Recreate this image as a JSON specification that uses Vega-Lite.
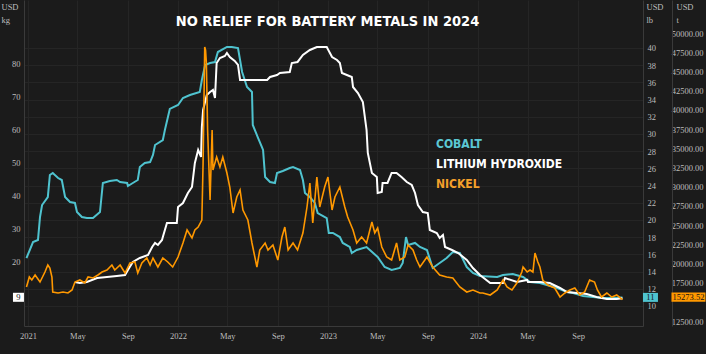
{
  "$schema": "https://vega.github.io/schema/vega-lite/v6.json",
  "width": 619,
  "height": 326,
  "autosize": {"type": "none"},
  "padding": {"left": 24, "top": 0, "right": 63, "bottom": 28},
  "background": "#1b1b1b",
  "title": {
    "text": "NO RELIEF FOR BATTERY METALS IN 2024",
    "color": "#ffffff",
    "font": "DejaVu Sans Condensed",
    "fontSize": 14.5,
    "fontWeight": "bold",
    "anchor": "middle",
    "frame": "group",
    "offset": -25,
    "baseline": "alphabetic",
    "dx": -6,
    "dy": 15
  },
  "config": {
    "view": {"stroke": null},
    "axis": {
      "labelFont": "Liberation Sans Narrow",
      "labelFontSize": 8.5,
      "labelColor": "#bdbdbd",
      "titleFont": "Liberation Sans Narrow",
      "titleFontSize": 8.5,
      "titleFontWeight": "normal",
      "titleColor": "#bdbdbd",
      "domainColor": "#3a3a3a",
      "tickSize": 0,
      "gridColor": "#252525",
      "labelOverlap": false,
      "labelFlush": false
    }
  },
  "datasets": {
    "cobalt": [
      {"date": "2020-12-28", "v": 15.58}, {"date": "2021-01-05", "v": 16.51}, {"date": "2021-01-13", "v": 17.44},
      {"date": "2021-01-25", "v": 17.67}, {"date": "2021-01-30", "v": 20.35}, {"date": "2021-02-04", "v": 21.74},
      {"date": "2021-02-18", "v": 22.67}, {"date": "2021-02-23", "v": 25.23}, {"date": "2021-03-02", "v": 25.47},
      {"date": "2021-03-15", "v": 24.88}, {"date": "2021-03-24", "v": 24.65}, {"date": "2021-04-01", "v": 22.67},
      {"date": "2021-04-13", "v": 22.09}, {"date": "2021-04-25", "v": 21.98}, {"date": "2021-04-30", "v": 20.93},
      {"date": "2021-05-12", "v": 20.35}, {"date": "2021-05-24", "v": 20.23}, {"date": "2021-06-08", "v": 20.23},
      {"date": "2021-06-25", "v": 20.93}, {"date": "2021-07-02", "v": 24.30}, {"date": "2021-07-19", "v": 24.53},
      {"date": "2021-08-05", "v": 24.65}, {"date": "2021-08-13", "v": 24.42}, {"date": "2021-08-30", "v": 24.30},
      {"date": "2021-09-01", "v": 23.95}, {"date": "2021-09-13", "v": 24.30}, {"date": "2021-09-25", "v": 24.65},
      {"date": "2021-09-30", "v": 26.16}, {"date": "2021-10-12", "v": 26.63}, {"date": "2021-10-25", "v": 26.74},
      {"date": "2021-11-01", "v": 27.56}, {"date": "2021-11-06", "v": 28.72}, {"date": "2021-11-25", "v": 29.30},
      {"date": "2021-11-30", "v": 30.47}, {"date": "2021-12-12", "v": 32.91}, {"date": "2022-01-01", "v": 33.37},
      {"date": "2022-01-13", "v": 34.19}, {"date": "2022-01-30", "v": 34.53}, {"date": "2022-02-23", "v": 34.88},
      {"date": "2022-02-28", "v": 36.28}, {"date": "2022-03-08", "v": 38.02}, {"date": "2022-03-20", "v": 38.26},
      {"date": "2022-04-01", "v": 38.37}, {"date": "2022-04-08", "v": 39.53}, {"date": "2022-04-30", "v": 40.12},
      {"date": "2022-05-12", "v": 40.12}, {"date": "2022-05-27", "v": 40.00}, {"date": "2022-06-01", "v": 38.60},
      {"date": "2022-06-06", "v": 37.21}, {"date": "2022-06-18", "v": 35.47}, {"date": "2022-06-30", "v": 34.88},
      {"date": "2022-07-02", "v": 31.05}, {"date": "2022-07-14", "v": 29.65}, {"date": "2022-07-24", "v": 28.49},
      {"date": "2022-07-27", "v": 28.14}, {"date": "2022-08-01", "v": 25.00}, {"date": "2022-08-13", "v": 24.42},
      {"date": "2022-08-25", "v": 24.30}, {"date": "2022-08-30", "v": 25.47}, {"date": "2022-09-13", "v": 25.70},
      {"date": "2022-09-30", "v": 26.05}, {"date": "2022-10-08", "v": 26.16}, {"date": "2022-10-25", "v": 25.81},
      {"date": "2022-11-01", "v": 24.65}, {"date": "2022-11-06", "v": 23.14}, {"date": "2022-11-18", "v": 22.67},
      {"date": "2022-11-30", "v": 21.98}, {"date": "2022-12-07", "v": 20.81}, {"date": "2022-12-29", "v": 20.23},
      {"date": "2023-01-03", "v": 18.49}, {"date": "2023-01-13", "v": 18.49}, {"date": "2023-01-30", "v": 18.02},
      {"date": "2023-02-06", "v": 17.33}, {"date": "2023-02-23", "v": 16.86}, {"date": "2023-02-28", "v": 16.16},
      {"date": "2023-03-12", "v": 16.51}, {"date": "2023-04-05", "v": 16.86}, {"date": "2023-04-13", "v": 16.51},
      {"date": "2023-05-02", "v": 15.70}, {"date": "2023-05-19", "v": 14.53}, {"date": "2023-06-05", "v": 14.19},
      {"date": "2023-06-25", "v": 14.42}, {"date": "2023-07-02", "v": 15.00}, {"date": "2023-07-10", "v": 18.02},
      {"date": "2023-07-15", "v": 17.09}, {"date": "2023-08-01", "v": 17.33}, {"date": "2023-08-13", "v": 16.86},
      {"date": "2023-08-30", "v": 16.51}, {"date": "2023-09-13", "v": 14.42}, {"date": "2023-09-30", "v": 15.00},
      {"date": "2023-10-17", "v": 15.58}, {"date": "2023-11-01", "v": 16.28}, {"date": "2023-11-18", "v": 16.16},
      {"date": "2023-12-05", "v": 14.53}, {"date": "2023-12-20", "v": 13.84}, {"date": "2024-01-06", "v": 13.49},
      {"date": "2024-02-17", "v": 13.37}, {"date": "2024-03-02", "v": 13.60}, {"date": "2024-03-26", "v": 13.72},
      {"date": "2024-04-20", "v": 13.37}, {"date": "2024-05-07", "v": 12.79}, {"date": "2024-05-31", "v": 12.67},
      {"date": "2024-06-17", "v": 12.44}, {"date": "2024-07-12", "v": 12.09}, {"date": "2024-08-05", "v": 11.63},
      {"date": "2024-08-20", "v": 11.51}, {"date": "2024-09-13", "v": 11.16}, {"date": "2024-10-07", "v": 11.05},
      {"date": "2024-11-01", "v": 10.93}, {"date": "2024-11-25", "v": 10.93}, {"date": "2024-12-18", "v": 11}
    ],
    "lithium": [
      {"date": "2021-04-25", "v": 13.94}, {"date": "2021-05-07", "v": 13.64}, {"date": "2021-05-24", "v": 13.94},
      {"date": "2021-06-18", "v": 15.15}, {"date": "2021-07-12", "v": 15.45}, {"date": "2021-08-05", "v": 15.76},
      {"date": "2021-08-25", "v": 16.06}, {"date": "2021-09-01", "v": 17.58}, {"date": "2021-09-13", "v": 20.00},
      {"date": "2021-09-30", "v": 21.21}, {"date": "2021-10-20", "v": 22.12}, {"date": "2021-10-30", "v": 24.55},
      {"date": "2021-11-06", "v": 25.76}, {"date": "2021-11-13", "v": 25.15}, {"date": "2021-11-23", "v": 26.67},
      {"date": "2021-11-25", "v": 27.58}, {"date": "2021-12-05", "v": 31.82}, {"date": "2021-12-29", "v": 31.82},
      {"date": "2022-01-01", "v": 36.67}, {"date": "2022-01-13", "v": 37.88}, {"date": "2022-01-25", "v": 40.91},
      {"date": "2022-02-04", "v": 42.73}, {"date": "2022-02-11", "v": 50.00}, {"date": "2022-02-19", "v": 53.94},
      {"date": "2022-02-26", "v": 51.82}, {"date": "2022-02-28", "v": 60.91}, {"date": "2022-03-03", "v": 66.06},
      {"date": "2022-03-12", "v": 70.61}, {"date": "2022-03-20", "v": 71.52}, {"date": "2022-03-27", "v": 72.12},
      {"date": "2022-04-01", "v": 69.70}, {"date": "2022-04-05", "v": 80.30}, {"date": "2022-04-13", "v": 81.82},
      {"date": "2022-04-25", "v": 82.42}, {"date": "2022-04-30", "v": 83.33}, {"date": "2022-05-07", "v": 82.12},
      {"date": "2022-05-19", "v": 80.91}, {"date": "2022-05-27", "v": 79.70}, {"date": "2022-06-01", "v": 75.15},
      {"date": "2022-06-25", "v": 75.15}, {"date": "2022-08-06", "v": 75.15}, {"date": "2022-08-13", "v": 76.06},
      {"date": "2022-08-30", "v": 76.67}, {"date": "2022-09-06", "v": 77.27}, {"date": "2022-09-30", "v": 77.58},
      {"date": "2022-10-05", "v": 80.30}, {"date": "2022-10-19", "v": 80.61}, {"date": "2022-11-01", "v": 82.73},
      {"date": "2022-11-18", "v": 84.24}, {"date": "2022-12-05", "v": 85.15}, {"date": "2022-12-29", "v": 85.15},
      {"date": "2023-01-11", "v": 82.12}, {"date": "2023-01-23", "v": 81.21}, {"date": "2023-01-30", "v": 80.30},
      {"date": "2023-02-04", "v": 77.27}, {"date": "2023-02-16", "v": 76.67}, {"date": "2023-02-28", "v": 76.06},
      {"date": "2023-03-03", "v": 73.03}, {"date": "2023-03-15", "v": 71.21}, {"date": "2023-03-27", "v": 68.48},
      {"date": "2023-04-05", "v": 60.00}, {"date": "2023-04-08", "v": 53.03}, {"date": "2023-04-18", "v": 46.97},
      {"date": "2023-04-30", "v": 45.76}, {"date": "2023-05-02", "v": 40.91}, {"date": "2023-05-12", "v": 41.21},
      {"date": "2023-05-14", "v": 43.94}, {"date": "2023-05-26", "v": 43.94}, {"date": "2023-06-05", "v": 46.97},
      {"date": "2023-06-17", "v": 46.97}, {"date": "2023-06-29", "v": 45.76}, {"date": "2023-07-12", "v": 44.24},
      {"date": "2023-07-24", "v": 43.33}, {"date": "2023-08-01", "v": 40.91}, {"date": "2023-08-08", "v": 37.27},
      {"date": "2023-08-20", "v": 35.15}, {"date": "2023-09-01", "v": 34.85}, {"date": "2023-09-06", "v": 29.70},
      {"date": "2023-09-23", "v": 28.79}, {"date": "2023-09-30", "v": 27.27}, {"date": "2023-10-08", "v": 28.18},
      {"date": "2023-10-13", "v": 24.55}, {"date": "2023-10-30", "v": 23.64}, {"date": "2023-11-14", "v": 22.73},
      {"date": "2023-12-05", "v": 20.61}, {"date": "2023-12-20", "v": 18.18}, {"date": "2024-01-06", "v": 16.06},
      {"date": "2024-01-31", "v": 13.64}, {"date": "2024-03-02", "v": 13.64}, {"date": "2024-03-07", "v": 15.15},
      {"date": "2024-04-05", "v": 13.94}, {"date": "2024-04-30", "v": 14.55}, {"date": "2024-05-02", "v": 13.94},
      {"date": "2024-05-31", "v": 13.94}, {"date": "2024-06-24", "v": 13.64}, {"date": "2024-07-19", "v": 12.12},
      {"date": "2024-08-05", "v": 10.91}, {"date": "2024-08-29", "v": 10.61}, {"date": "2024-09-22", "v": 10.30},
      {"date": "2024-10-16", "v": 9.39}, {"date": "2024-11-10", "v": 8.79}, {"date": "2024-12-04", "v": 8.79},
      {"date": "2024-12-18", "v": 9}
    ],
    "nickel": [
      {"date": "2020-12-28", "v": 16927}, {"date": "2021-01-04", "v": 18229}, {"date": "2021-01-10", "v": 17838},
      {"date": "2021-01-18", "v": 18489}, {"date": "2021-01-30", "v": 17578}, {"date": "2021-02-11", "v": 18880},
      {"date": "2021-02-18", "v": 19791}, {"date": "2021-02-23", "v": 19400}, {"date": "2021-02-28", "v": 18229},
      {"date": "2021-03-02", "v": 16276}, {"date": "2021-03-15", "v": 16146}, {"date": "2021-03-27", "v": 16276},
      {"date": "2021-04-08", "v": 16146}, {"date": "2021-04-18", "v": 16536}, {"date": "2021-04-25", "v": 17578},
      {"date": "2021-05-07", "v": 17838}, {"date": "2021-05-19", "v": 17448}, {"date": "2021-05-27", "v": 18229},
      {"date": "2021-06-08", "v": 18099}, {"date": "2021-06-20", "v": 18489}, {"date": "2021-06-30", "v": 18880},
      {"date": "2021-07-12", "v": 19140}, {"date": "2021-07-24", "v": 19791}, {"date": "2021-07-31", "v": 19140},
      {"date": "2021-08-13", "v": 19791}, {"date": "2021-08-25", "v": 18750}, {"date": "2021-09-06", "v": 20052},
      {"date": "2021-09-18", "v": 20182}, {"date": "2021-09-25", "v": 18750}, {"date": "2021-10-05", "v": 20052},
      {"date": "2021-10-17", "v": 20703}, {"date": "2021-10-25", "v": 19791}, {"date": "2021-11-01", "v": 20703},
      {"date": "2021-11-13", "v": 19531}, {"date": "2021-11-25", "v": 20703}, {"date": "2021-12-07", "v": 20182},
      {"date": "2021-12-19", "v": 19531}, {"date": "2022-01-01", "v": 20833}, {"date": "2022-01-13", "v": 22656},
      {"date": "2022-01-23", "v": 24348}, {"date": "2022-02-04", "v": 23307}, {"date": "2022-02-11", "v": 24348},
      {"date": "2022-02-19", "v": 24739}, {"date": "2022-02-28", "v": 25650}, {"date": "2022-03-03", "v": 33072},
      {"date": "2022-03-07", "v": 48175}, {"date": "2022-03-09", "v": 47784}, {"date": "2022-03-11", "v": 46092},
      {"date": "2022-03-14", "v": 37368}, {"date": "2022-03-20", "v": 28254}, {"date": "2022-03-25", "v": 37368},
      {"date": "2022-03-27", "v": 32160}, {"date": "2022-04-05", "v": 33853}, {"date": "2022-04-13", "v": 32551},
      {"date": "2022-04-20", "v": 33853}, {"date": "2022-04-30", "v": 31770}, {"date": "2022-05-07", "v": 29947},
      {"date": "2022-05-15", "v": 26562}, {"date": "2022-05-24", "v": 28645}, {"date": "2022-06-01", "v": 29556},
      {"date": "2022-06-08", "v": 26953}, {"date": "2022-06-20", "v": 25650}, {"date": "2022-06-30", "v": 22656},
      {"date": "2022-07-12", "v": 19531}, {"date": "2022-07-19", "v": 21744}, {"date": "2022-08-01", "v": 22656},
      {"date": "2022-08-08", "v": 21744}, {"date": "2022-08-20", "v": 22395}, {"date": "2022-09-01", "v": 20442},
      {"date": "2022-09-11", "v": 23437}, {"date": "2022-09-18", "v": 24739}, {"date": "2022-09-26", "v": 21744},
      {"date": "2022-10-08", "v": 22656}, {"date": "2022-10-19", "v": 21744}, {"date": "2022-11-01", "v": 23958},
      {"date": "2022-11-11", "v": 27343}, {"date": "2022-11-18", "v": 30468}, {"date": "2022-11-25", "v": 25260},
      {"date": "2022-12-05", "v": 31249}, {"date": "2022-12-12", "v": 27343}, {"date": "2022-12-24", "v": 29947},
      {"date": "2023-01-01", "v": 31249}, {"date": "2023-01-11", "v": 26953}, {"date": "2023-01-18", "v": 28645},
      {"date": "2023-01-30", "v": 29947}, {"date": "2023-02-11", "v": 27343}, {"date": "2023-02-18", "v": 26041},
      {"date": "2023-03-03", "v": 24348}, {"date": "2023-03-12", "v": 22656}, {"date": "2023-03-24", "v": 23437},
      {"date": "2023-04-05", "v": 22656}, {"date": "2023-04-18", "v": 25390}, {"date": "2023-04-25", "v": 23958},
      {"date": "2023-05-02", "v": 24609}, {"date": "2023-05-12", "v": 22135}, {"date": "2023-05-24", "v": 20833},
      {"date": "2023-06-05", "v": 20442}, {"date": "2023-06-17", "v": 22656}, {"date": "2023-06-25", "v": 20442},
      {"date": "2023-07-07", "v": 20833}, {"date": "2023-07-15", "v": 22395}, {"date": "2023-07-27", "v": 21744},
      {"date": "2023-08-05", "v": 20442}, {"date": "2023-08-13", "v": 19531}, {"date": "2023-08-30", "v": 20833},
      {"date": "2023-09-13", "v": 19531}, {"date": "2023-09-30", "v": 18489}, {"date": "2023-10-17", "v": 18229},
      {"date": "2023-11-01", "v": 18099}, {"date": "2023-11-18", "v": 16927}, {"date": "2023-12-05", "v": 16276},
      {"date": "2023-12-20", "v": 16536}, {"date": "2024-01-06", "v": 16146}, {"date": "2024-01-13", "v": 16145},
      {"date": "2024-01-31", "v": 15885}, {"date": "2024-02-17", "v": 16536}, {"date": "2024-03-02", "v": 17838},
      {"date": "2024-03-12", "v": 16927}, {"date": "2024-03-24", "v": 16536}, {"date": "2024-04-05", "v": 17448},
      {"date": "2024-04-17", "v": 18880}, {"date": "2024-04-20", "v": 19531}, {"date": "2024-04-30", "v": 18880},
      {"date": "2024-05-07", "v": 19140}, {"date": "2024-05-14", "v": 18880}, {"date": "2024-05-19", "v": 21353},
      {"date": "2024-05-26", "v": 20182}, {"date": "2024-05-31", "v": 19531}, {"date": "2024-06-07", "v": 17838},
      {"date": "2024-06-19", "v": 17187}, {"date": "2024-07-06", "v": 16797}, {"date": "2024-07-19", "v": 15625},
      {"date": "2024-07-31", "v": 16146}, {"date": "2024-08-12", "v": 16536}, {"date": "2024-08-24", "v": 16797},
      {"date": "2024-09-05", "v": 15885}, {"date": "2024-09-17", "v": 16276}, {"date": "2024-09-29", "v": 17838},
      {"date": "2024-10-11", "v": 17578}, {"date": "2024-10-18", "v": 16536}, {"date": "2024-10-28", "v": 15625},
      {"date": "2024-11-10", "v": 16146}, {"date": "2024-11-22", "v": 15624}, {"date": "2024-12-04", "v": 15885},
      {"date": "2024-12-18", "v": 15273.52}
    ]
  },
  "encoding": {
    "x": {
      "field": "date",
      "type": "temporal",
      "scale": {"domain": [{"year": 2020, "month": 12, "date": 22}, {"year": 2025, "month": 2, "date": 6}]},
      "axis": {
        "title": null,
        "values": [
          {"year": 2021, "month": 1, "date": 1}, {"year": 2021, "month": 5, "date": 1}, {"year": 2021, "month": 9, "date": 1},
          {"year": 2022, "month": 1, "date": 1}, {"year": 2022, "month": 5, "date": 1}, {"year": 2022, "month": 9, "date": 1},
          {"year": 2023, "month": 1, "date": 1}, {"year": 2023, "month": 5, "date": 1}, {"year": 2023, "month": 9, "date": 1},
          {"year": 2024, "month": 1, "date": 1}, {"year": 2024, "month": 5, "date": 1}, {"year": 2024, "month": 9, "date": 1}
        ],
        "labelExpr": "month(datum.value) == 0 ? timeFormat(datum.value, '%Y') : timeFormat(datum.value, '%b')",
        "grid": true,
        "labelPadding": 5
      }
    }
  },
  "resolve": {"scale": {"y": "independent"}, "axis": {"y": "independent"}},
  "layer": [
    {
      "data": {"name": "cobalt"},
      "encoding": {
        "y": {
          "field": "v",
          "type": "quantitative",
          "scale": {"domain": [7.674, 45.581], "nice": false, "zero": false},
          "axis": {
            "orient": "right",
            "values": [10, 12, 14, 16, 18, 20, 22, 24, 26, 28, 30, 32, 34, 36, 38, 40],
            "grid": true,
            "labelPadding": 4,
            "title": ["USD", "lb"],
            "titleAngle": 0,
            "titleX": 3,
            "titleY": 2,
            "titleAlign": "left",
            "titleBaseline": "top",
            "titleLineHeight": 13
          }
        }
      },
      "layer": [
        {
          "mark": {"type": "line", "strokeWidth": 2},
          "encoding": {
            "color": {
              "datum": "COBALT",
              "type": "nominal",
              "scale": {"domain": ["COBALT", "LITHIUM HYDROXIDE", "NICKEL"], "range": ["#4fc3cf", "#ffffff", "#ff9800"]},
              "legend": {
                "orient": "none",
                "legendX": 400,
                "legendY": 138,
                "title": null,
                "symbolSize": 0,
                "symbolOpacity": 0,
                "symbolStrokeWidth": 0,
                "labelOffset": 0,
                "labelFont": "DejaVu Sans Condensed",
                "labelFontSize": 12,
                "labelFontWeight": "bold",
                "rowPadding": 8,
                "labelColor": {"expr": "datum.label == 'COBALT' ? '#5bc8d4' : datum.label == 'NICKEL' ? '#f5a02a' : '#ffffff'"}
              }
            }
          }
        },
        {
          "transform": [{"filter": "datum.v == 11"}],
          "mark": {"type": "point", "shape": "M-1,-0.6H1V0.6H-1Z", "size": 225, "filled": true, "opacity": 1, "color": "#4fc3cf", "xOffset": 28},
          "encoding": {}
        },
        {
          "transform": [{"filter": "datum.v == 11"}],
          "mark": {"type": "text", "color": "#131313", "font": "Liberation Sans Narrow", "fontSize": 8.5, "dx": 28, "align": "center", "baseline": "middle"},
          "encoding": {"text": {"field": "v", "type": "quantitative", "format": ".0f"}}
        }
      ]
    },
    {
      "data": {"name": "lithium"},
      "encoding": {
        "y": {
          "field": "v",
          "type": "quantitative",
          "scale": {"domain": [0.606, 99.39], "nice": false, "zero": false},
          "axis": {
            "orient": "left",
            "values": [20, 30, 40, 50, 60, 70, 80],
            "grid": false,
            "labelPadding": 4,
            "title": ["USD", "kg"],
            "titleAngle": 0,
            "titleX": -23,
            "titleY": 2,
            "titleAlign": "left",
            "titleBaseline": "top",
            "titleLineHeight": 13
          }
        }
      },
      "layer": [
        {
          "mark": {"type": "line", "strokeWidth": 2},
          "encoding": {
            "color": {
              "datum": "LITHIUM HYDROXIDE",
              "type": "nominal",
              "scale": {"domain": ["COBALT", "LITHIUM HYDROXIDE", "NICKEL"], "range": ["#4fc3cf", "#ffffff", "#ff9800"]}
            }
          }
        },
        {
          "transform": [{"filter": "datum.v == 9"}],
          "mark": {"type": "point", "shape": "M-1,-0.82H1V0.82H-1Z", "size": 121, "filled": true, "opacity": 1, "color": "#ffffff", "xOffset": -604, "yOffset": -1},
          "encoding": {}
        },
        {
          "transform": [{"filter": "datum.v == 9"}],
          "mark": {"type": "text", "color": "#131313", "font": "Liberation Sans Narrow", "fontSize": 8.5, "dx": -604, "dy": -1, "align": "center", "baseline": "middle"},
          "encoding": {"text": {"field": "v", "type": "quantitative", "format": ".0f"}}
        }
      ]
    },
    {
      "data": {"name": "nickel"},
      "encoding": {
        "y": {
          "field": "v",
          "type": "quantitative",
          "scale": {"domain": [11849, 54297], "nice": false, "zero": false},
          "axis": {
            "orient": "right",
            "offset": 29,
            "values": [12500, 17500, 20000, 22500, 25000, 27500, 30000, 32500, 35000, 37500, 40000, 42500, 45000, 47500, 50000],
            "format": ".2f",
            "grid": false,
            "labelAlign": "right",
            "labelPadding": 31,
            "title": ["USD", "t"],
            "titleAngle": 0,
            "titleX": 4,
            "titleY": 2,
            "titleAlign": "left",
            "titleBaseline": "top",
            "titleLineHeight": 13
          }
        }
      },
      "layer": [
        {
          "mark": {"type": "line", "strokeWidth": 1.6},
          "encoding": {
            "color": {
              "datum": "NICKEL",
              "type": "nominal",
              "scale": {"domain": ["COBALT", "LITHIUM HYDROXIDE", "NICKEL"], "range": ["#4fc3cf", "#ffffff", "#ff9800"]}
            }
          }
        },
        {
          "transform": [{"filter": "datum.v == 15273.52"}],
          "mark": {"type": "point", "shape": "M-1,-0.27H1V0.27H-1Z", "size": 1156, "filled": true, "opacity": 1, "color": "#ff9800", "xOffset": 66, "yOffset": -2.5},
          "encoding": {}
        },
        {
          "transform": [{"filter": "datum.v == 15273.52"}],
          "mark": {"type": "text", "color": "#131313", "font": "Liberation Sans Narrow", "fontSize": 8.5, "dx": 66, "dy": -2.5, "align": "center", "baseline": "middle"},
          "encoding": {"text": {"field": "v", "type": "quantitative", "format": ".2f"}}
        }
      ]
    }
  ]
}
